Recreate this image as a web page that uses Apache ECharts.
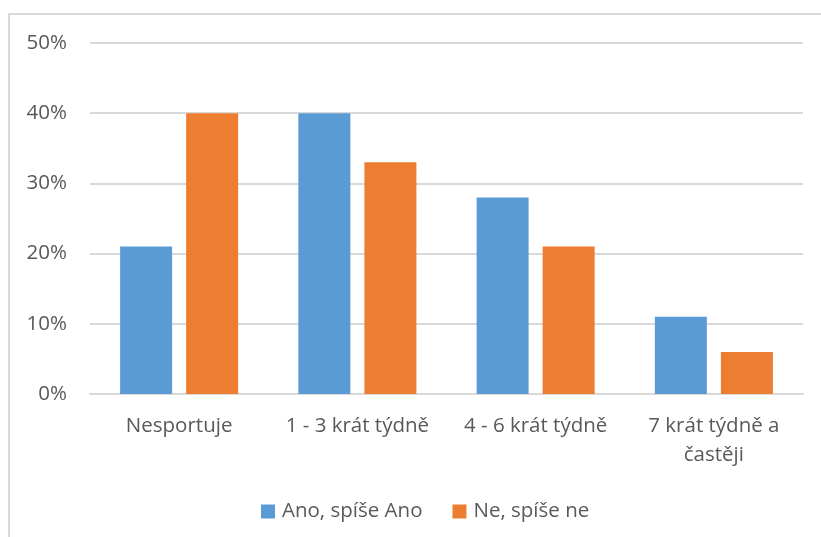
<!DOCTYPE html>
<html><head><meta charset="utf-8">
<script src="https://cdn.jsdelivr.net/npm/echarts@6/dist/echarts.min.js"></script>
<style>
html,body{margin:0;padding:0;background:#fff;}
#frame{position:absolute;left:8px;top:13px;width:830px;height:560px;border:2px solid #d9d9d9;box-sizing:border-box;}
#c{position:absolute;left:0;top:0;width:821px;height:537px;}
</style></head><body>
<div id="frame"></div>
<div id="c"></div>
<script>
const categories = ['Nesportuje', '1 - 3 krát týdně', '4 - 6 krát týdně', '7 krát týdně a\nčastěji'];
const seriesNames = ['Ano, spíše Ano', 'Ne, spíše ne'];
const anoValues = [21, 40, 28, 11];
const neValues = [40, 33, 21, 6];
const yTicks = [0, 10, 20, 30, 40, 50];

const font = '"Open Sans", sans-serif';
const chart = echarts.init(document.getElementById('c'), null, {renderer: 'canvas'});
chart.setOption({
  animation: false,
  backgroundColor: 'transparent',
  color: ['#5b9bd5', '#ed7d31'],
  grid: {left: 90, right: 18, top: 43, bottom: 143, containLabel: false},
  legend: {
    data: seriesNames,
    top: 496,
    left: 256,
    itemWidth: 14, itemHeight: 14, itemGap: 30,
    icon: 'rect',
    textStyle: {fontFamily: font, fontSize: 20.5, color: '#595959', padding: [0, 0, 0, 2]}
  },
  xAxis: {
    type: 'category',
    data: categories,
    axisLine: {show: true, lineStyle: {color: '#d9d9d9', width: 2}},
    axisTick: {show: false},
    axisLabel: {fontFamily: font, fontSize: 20.5, color: '#595959', margin: 18, lineHeight: 29, interval: 0}
  },
  yAxis: {
    type: 'value',
    min: yTicks[0], max: yTicks[yTicks.length - 1], interval: 10,
    axisLine: {show: false},
    axisTick: {show: false},
    splitLine: {lineStyle: {color: '#d9d9d9', width: 2}},
    axisLabel: {fontFamily: font, fontSize: 20.5, color: '#595959', margin: 23, formatter: v => v + '%'}
  },
  series: [
    {name: seriesNames[0], type: 'bar', data: anoValues, barWidth: 52, barGap: '27%'},
    {name: seriesNames[1], type: 'bar', data: neValues, barWidth: 52, barGap: '27%'}
  ]
});
</script>
</body></html>
